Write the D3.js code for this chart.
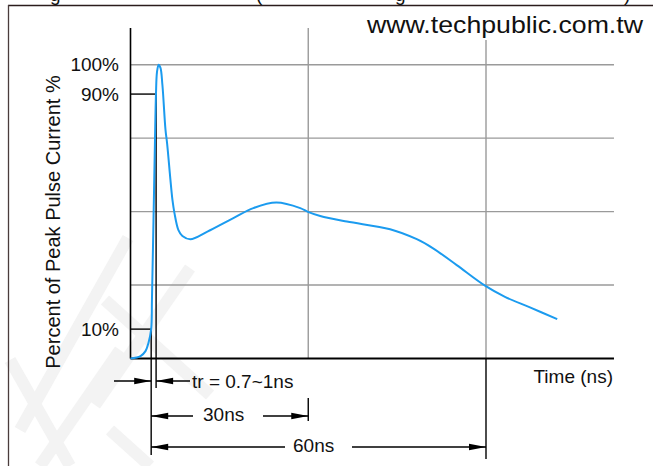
<!DOCTYPE html>
<html>
<head>
<meta charset="utf-8">
<script src="https://cdn.jsdelivr.net/npm/d3@7/dist/d3.min.js"></script>
<style>
  html, body { margin: 0; padding: 0; background: #fff; }
  svg { display: block; }
  text { font-family: "Liberation Sans", Arial, sans-serif; fill: #111; }
</style>
</head>
<body>
<svg id="chart" width="653" height="466"></svg>
<script>
// ---- data ----
const timeNs = [0, 1.69, 2.53, 3.03, 3.49, 3.62, 3.88, 4.13, 4.30, 4.47, 4.75, 5.06, 5.39, 5.9, 6.19, 6.74, 7.08, 7.42, 8.09, 8.76, 10.11, 12.98, 17.36, 20.73, 24.61, 28.65, 29.95, 32.02, 36.52, 43.82, 48.32, 51.07, 55.06, 59.83, 63.2, 67.42, 72.02];
const percentPeak = [0, 0.8, 2.5, 5.3, 10, 20, 47, 74, 90, 97.5, 100, 98.9, 93, 78, 73, 60.8, 54, 49.5, 43.7, 41.7, 40.6, 43.2, 47.8, 51.2, 53.1, 51.2, 49.9, 48.5, 46.6, 44.0, 40.6, 37.5, 31.8, 24.8, 21.0, 17.4, 13.4];
const gridPercents = [25, 50, 75, 100];
const gridTimes = [30, 60];
const yTickValues = [100, 90, 10];
const yTickLabels = ["100%", "90%", "10%"];
const t10 = 3.49, t90 = 4.32;           // 10% and 90% points of the rising edge
const dimEnds = [30, 60];
const dimLabels = ["30ns", "60ns"];
const riseLabel = "tr = 0.7~1ns";
const xTitle = "Time (ns)";
const yTitle = "Percent of Peak Pulse Current %";
const siteLabel = "www.techpublic.com.tw";
const xMax = 81.6, yMax = 112.5;

// ---- scales ----
const svg = d3.select("#chart");
const x = d3.scaleLinear().domain([0, 60]).range([130.5, 486]);
const y = d3.scaleLinear().domain([0, 100]).range([358.5, 64.7]);

// faint watermark strokes
const wm = svg.append("g").attr("fill", "none").attr("stroke", "#f3f3f3").attr("stroke-width", 12).attr("stroke-linecap", "butt");
[
  [[20, 430], [128, 238]],
  [[105, 300], [210, 395]],
  [[190, 268], [95, 405]],
  [[40, 466], [120, 350]],
  [[10, 360], [70, 466]],
  [[110, 430], [150, 466]]
].forEach(p => wm.append("path").attr("d", d3.line()(p)));

// page frame
svg.append("line").attr("x1", 8).attr("x2", 653).attr("y1", 5.5).attr("y2", 5.5).attr("stroke", "#2b1c1c").attr("stroke-width", 1.6);
svg.append("line").attr("x1", 8.5).attr("x2", 8.5).attr("y1", 5).attr("y2", 466).attr("stroke", "#4a3c3c").attr("stroke-width", 1.3);

// cut-off caption glyphs at top (the reference shows only their descenders)
[["g", 50], ["(", 256], ["g", 395], [")", 624]].forEach(([c, px]) => {
  svg.append("text").attr("x", px).attr("y", 0.5).attr("font-size", 19).text(c);
});

// grid
const g = svg.append("g");
g.selectAll("line.hg").data(gridPercents).join("line")
  .attr("x1", x(0)).attr("x2", x(xMax)).attr("y1", d => y(d)).attr("y2", d => y(d))
  .attr("stroke", "#9a9a9a").attr("stroke-width", 1.4);
g.selectAll("line.vg").data(gridTimes).join("line")
  .attr("x1", d => x(d)).attr("x2", d => x(d)).attr("y1", y(yMax)).attr("y2", y(0))
  .attr("stroke", "#9a9a9a").attr("stroke-width", 1.4);

// site label with white backing
svg.append("rect").attr("x", 364).attr("y", 12).attr("width", 282).attr("height", 28).attr("fill", "#fff");
svg.append("text").attr("x", 367).attr("y", 33).attr("font-size", 24)
  .attr("textLength", 276).attr("lengthAdjust", "spacingAndGlyphs").text(siteLabel);

// axes
svg.append("line").attr("x1", x(0)).attr("x2", x(0)).attr("y1", y(yMax)).attr("y2", y(0)).attr("stroke", "#000").attr("stroke-width", 1.6);
svg.append("line").attr("x1", x(0)).attr("x2", x(xMax)).attr("y1", y(0)).attr("y2", y(0)).attr("stroke", "#000").attr("stroke-width", 1.8);

// y tick labels
svg.selectAll("text.yl").data(yTickValues).join("text")
  .attr("x", 119).attr("y", d => y(d) + 6.5).attr("text-anchor", "end").attr("font-size", 19)
  .text((d, i) => yTickLabels[i]);

// 90% and 10% marker lines
const blk = svg.append("g").attr("stroke", "#000").attr("stroke-width", 1.4);
blk.append("line").attr("x1", x(0)).attr("x2", x(t90)).attr("y1", y(90)).attr("y2", y(90));
blk.append("line").attr("x1", x(0)).attr("x2", x(t10)).attr("y1", y(10)).attr("y2", y(10));
blk.append("line").attr("x1", x(t90)).attr("x2", x(t90)).attr("y1", y(90)).attr("y2", 388);
blk.append("line").attr("x1", x(t10)).attr("x2", x(t10)).attr("y1", y(10)).attr("y2", 455);
// extension lines for 30ns / 60ns
blk.append("line").attr("x1", x(dimEnds[0])).attr("x2", x(dimEnds[0])).attr("y1", 398).attr("y2", 421);
blk.append("line").attr("x1", x(dimEnds[1])).attr("x2", x(dimEnds[1])).attr("y1", y(0)).attr("y2", 459);

// arrow helper: tip at (tx,ty), dir +1 points right, -1 points left
function arrowHead(tx, ty, dir) {
  const L = 17, H = 3.2;
  svg.append("path")
    .attr("d", `M${tx},${ty} L${tx - dir * L},${ty - H} L${tx - dir * L},${ty + H} Z`)
    .attr("fill", "#000");
}
function hline(x1, x2, yy) {
  svg.append("line").attr("x1", x1).attr("x2", x2).attr("y1", yy).attr("y2", yy).attr("stroke", "#000").attr("stroke-width", 1.4);
}

// rise time dimension
const yTr = 381;
hline(114, x(t10), yTr); arrowHead(x(t10), yTr, 1);
hline(x(t90), 190, yTr); arrowHead(x(t90), yTr, -1);
svg.append("text").attr("x", 192).attr("y", 387.5).attr("font-size", 19).text(riseLabel);

// 30ns dimension
const y30 = 416;
hline(x(t10), 193, y30); arrowHead(x(t10), y30, -1);
hline(263, x(dimEnds[0]), y30); arrowHead(x(dimEnds[0]), y30, 1);
svg.append("text").attr("x", 203).attr("y", 421).attr("font-size", 19).text(dimLabels[0]);

// 60ns dimension
const y60 = 447;
hline(x(t10), 285, y60); arrowHead(x(t10), y60, -1);
hline(352, x(dimEnds[1]), y60); arrowHead(x(dimEnds[1]), y60, 1);
svg.append("text").attr("x", 293).attr("y", 452).attr("font-size", 19).text(dimLabels[1]);

// axis titles
svg.append("text").attr("x", 613).attr("y", 383).attr("text-anchor", "end").attr("font-size", 19).text(xTitle);
svg.append("text").attr("transform", `translate(60,${222}) rotate(-90)`).attr("text-anchor", "middle").attr("font-size", 20).text(yTitle);

// waveform
const pts = timeNs.map((t, i) => [t, percentPeak[i]]);
svg.append("path").datum(pts)
  .attr("d", d3.line().x(d => x(d[0])).y(d => y(d[1])).curve(d3.curveCatmullRom.alpha(0.5)))
  .attr("fill", "none").attr("stroke", "#1b9bef").attr("stroke-width", 2);
</script>
</body>
</html>
